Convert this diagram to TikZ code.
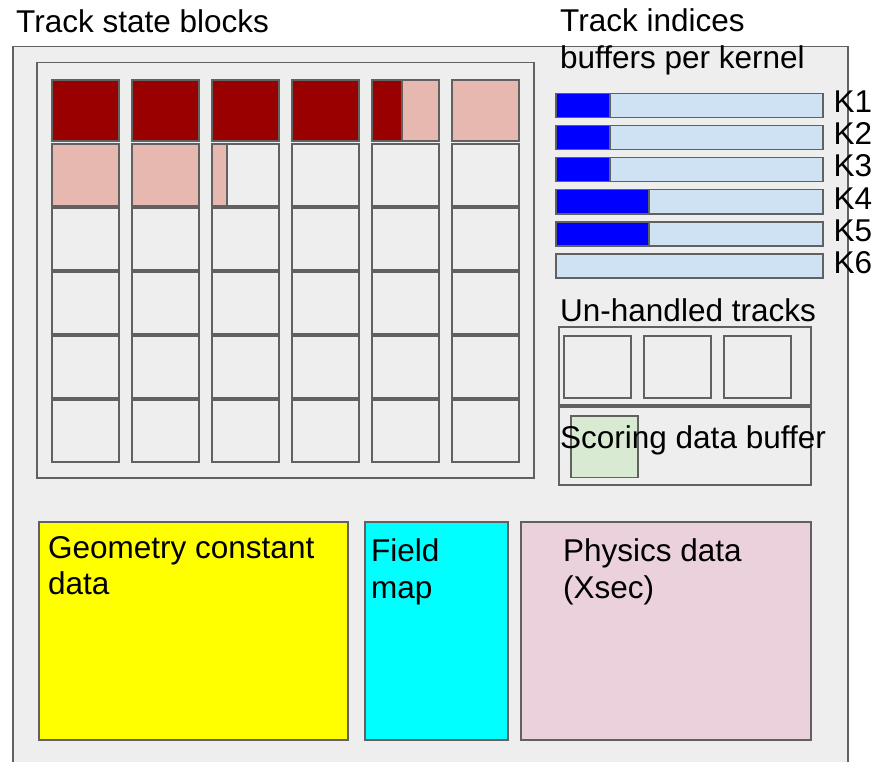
\documentclass[tikz,border=0pt]{standalone}
\usepackage{fontspec}
\setmainfont{Liberation Sans}
\usepackage{xcolor}
\usetikzlibrary{positioning}

\definecolor{bggray}{HTML}{EEEEEE}
\definecolor{edgegray}{HTML}{616161}
\definecolor{fullred}{HTML}{990000}
\definecolor{partred}{HTML}{E6B8AF}
\definecolor{idxblue}{HTML}{0000FF}
\definecolor{idxlight}{HTML}{CFE2F3}
\definecolor{scoregreen}{HTML}{D9EAD3}
\definecolor{geoyellow}{HTML}{FFFF00}
\definecolor{fieldcyan}{HTML}{00FFFF}
\definecolor{physpink}{HTML}{EAD1DC}

\tikzset{
  box/.style={draw=edgegray, line width=1.5pt, fill=bggray, inner sep=0pt,
    anchor=north west},
  cell/.style={box, line width=2pt, minimum width=67pt, minimum height=61.5pt},
  bar/.style={box, minimum width=267pt, minimum height=24pt, fill=idxlight},
  lbl/.style={inner sep=0pt, anchor=base west}
}

\begin{document}
\begin{tikzpicture}[x=1pt, y=-1pt, font=\fontsize{31.5}{36.5}\selectfont]
  \useasboundingbox (0,0) rectangle (872,762);
  \clip (0,0) rectangle (872,762);

  % Device memory (runs off the bottom)
  \node[box, minimum width=835pt, minimum height=740pt] (mem) at (12,46) {};

  % Track state blocks: 6x6 grid of cells
  \node[lbl] (title) at (16,33) {Track state blocks};
  \node[box, minimum width=497pt, minimum height=415pt] (grid) at (36,62) {};
  \foreach \r in {0,...,5}
    \foreach \c in {0,...,5}
      \node[cell] (c\r\c) at ({51+80*\c},{79+64*\r}) {};

  % full blocks
  \foreach \c in {0,...,3}
    \node[cell, fill=fullred] (f0\c) at (c0\c.north west) {};
  \node[cell, fill=fullred] (f04) at (c04.north west) {};
  % partly filled blocks
  \node[cell, fill=partred, minimum width=37pt, anchor=north east] (p04) at (c04.north east) {};
  \node[cell, fill=partred] (p05) at (c05.north west) {};
  \node[cell, fill=partred] (p10) at (c10.north west) {};
  \node[cell, fill=partred] (p11) at (c11.north west) {};
  \node[cell, fill=partred, minimum width=15pt] (p12) at (c12.north west) {};

  % Track indices buffers
  \node[lbl] (idx1) at (560,32) {Track indices};
  \node[lbl] (idx2) at (560,68.5) {buffers per kernel};
  \foreach \k in {1,...,6} {
    \node[bar] (bar\k) at (555,{93+32*(\k-1)}) {};
    \node[lbl] (k\k) at ([xshift=10pt, yshift=-20pt]bar\k.north east) {K\k};
  }
  \foreach \k/\w in {1/54,2/54,3/54,4/93,5/93}
    \node[bar, fill=idxblue, minimum width=\w pt] (used\k) at (bar\k.north west) {};

  % Un-handled tracks
  \node[lbl] (unh) at (560,321.7) {Un-handled tracks};
  \node[box, minimum width=252pt, minimum height=78pt] (unhbox) at (558,326) {};
  \foreach \i in {0,1,2}
    \node[cell] (u\i) at ({563+80*\i},335) {};

  % Scoring data buffer
  \node[box, minimum width=252pt, minimum height=78pt] (scorebox) at (558,406) {};
  \node[cell, line width=1.5pt, fill=scoregreen] (score) at (570,415) {};
  \node[lbl] (scoretxt) at (560,448.3) {Scoring data buffer};

  % Constant data
  \node[box, fill=geoyellow, minimum width=309pt, minimum height=218pt] (geo) at (38,521) {};
  \node[box, fill=fieldcyan, minimum width=143pt, minimum height=218pt] (field) at (364,521) {};
  \node[box, fill=physpink, minimum width=290pt, minimum height=218pt] (phys) at (520,521) {};
  \node[lbl] (geo1) at (48,558.3) {Geometry constant};
  \node[lbl] (geo2) at (48,594.8) {data};
  \node[lbl] (field1) at (371,561.7) {Field};
  \node[lbl] (field2) at (371,598.2) {map};
  \node[lbl] (phys1) at (563,561.7) {Physics data};
  \node[lbl] (phys2) at (563,598.2) {(Xsec)};
\end{tikzpicture}
\end{document}
